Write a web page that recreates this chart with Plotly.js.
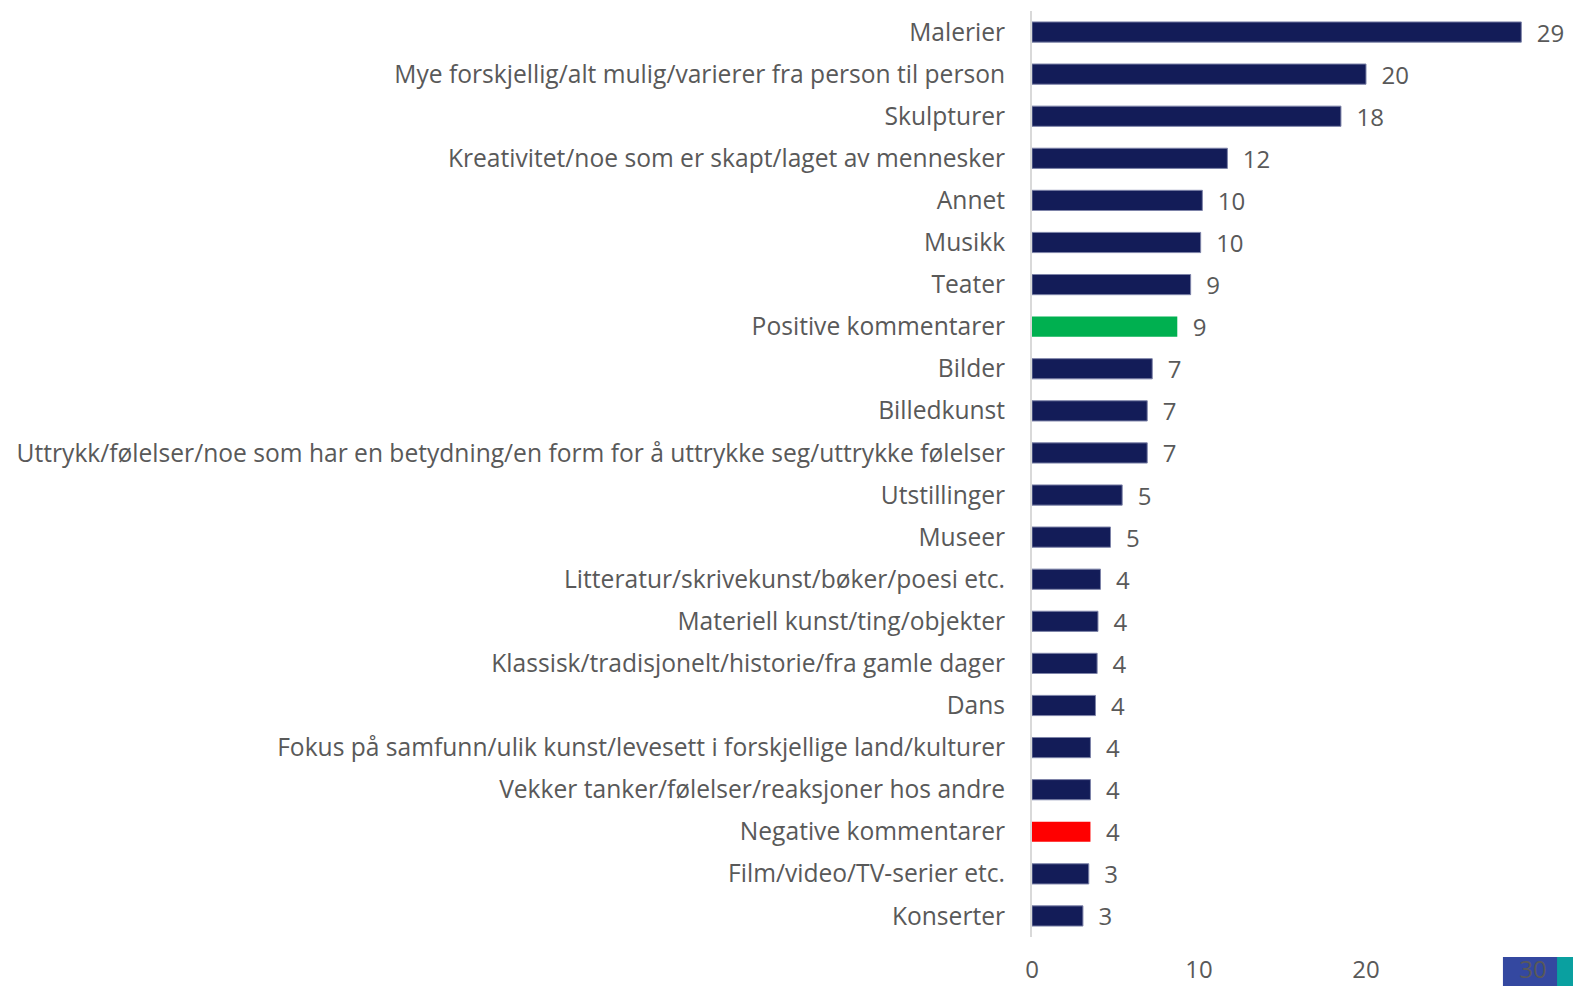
<!DOCTYPE html>
<html>
<head>
<meta charset="utf-8">
<script src="https://cdn.plot.ly/plotly-3.0.1.min.js"></script>
<style>html,body{margin:0;padding:0;background:#fff;}#chart{width:1573px;height:986px;}</style>
</head>
<body>
<div id="chart"></div>
<script>
const categories = [
  "Malerier",
  "Mye forskjellig/alt mulig/varierer fra person til person",
  "Skulpturer",
  "Kreativitet/noe som er skapt/laget av mennesker",
  "Annet",
  "Musikk",
  "Teater",
  "Positive kommentarer",
  "Bilder",
  "Billedkunst",
  "Uttrykk/følelser/noe som har en betydning/en form for å uttrykke seg/uttrykke følelser",
  "Utstillinger",
  "Museer",
  "Litteratur/skrivekunst/bøker/poesi etc.",
  "Materiell kunst/ting/objekter",
  "Klassisk/tradisjonelt/historie/fra gamle dager",
  "Dans",
  "Fokus på samfunn/ulik kunst/levesett i forskjellige land/kulturer",
  "Vekker tanker/følelser/reaksjoner hos andre",
  "Negative kommentarer",
  "Film/video/TV-serier etc.",
  "Konserter"
];
const values = [29.3, 20.0, 18.5, 11.7, 10.2, 10.1, 9.5, 8.7, 7.2, 6.9, 6.9, 5.4, 4.7, 4.1, 3.95, 3.9, 3.8, 3.5, 3.5, 3.5, 3.4, 3.05];
const valueLabels = ["29", "20", "18", "12", "10", "10", "9", "9", "7", "7", "7", "5", "5", "4", "4", "4", "4", "4", "4", "4", "3", "3"];
const xTicks = [0, 10, 20, 30];

const navy = "#131c58";
const barColors = categories.map(c => c === "Positive kommentarer" ? "#00b050" : (c === "Negative kommentarer" ? "#ff0000" : navy));
const lineColors = categories.map(c => (c === "Positive kommentarer" || c === "Negative kommentarer") ? "rgba(0,0,0,0)" : "#7d83a8");

const fontFam = "'Open Sans', sans-serif";

const trace = {
  type: "bar",
  orientation: "h",
  y: categories,
  x: values,
  text: valueLabels.map(t => "  " + t),
  textposition: "outside",
  constraintext: "none",
  cliponaxis: false,
  textfont: {family: fontFam, size: 24, color: "#595959"},
  marker: {color: barColors, line: {color: lineColors, width: 1}},
  hoverinfo: "none"
};

const layout = {
  width: 1573,
  height: 986,
  margin: {l: 1032, r: 40, t: 11, b: 49},
  paper_bgcolor: "#ffffff",
  plot_bgcolor: "#ffffff",
  showlegend: false,
  bargap: 0.52,
  font: {family: fontFam, color: "#595959"},
  xaxis: {
    range: [0, 30],
    tickvals: xTicks,
    ticktext: xTicks.map(String),
    showgrid: false,
    zeroline: false,
    showline: false,
    ticks: "outside",
    ticklen: 11,
    tickcolor: "rgba(0,0,0,0)",
    tickfont: {family: fontFam, size: 24, color: "#595959"},
    fixedrange: true
  },
  yaxis: {
    type: "category",
    autorange: "reversed",
    showgrid: false,
    zeroline: false,
    showline: true,
    linecolor: "#d9d9d9",
    linewidth: 2,
    ticks: "outside",
    ticklen: 20,
    tickcolor: "rgba(0,0,0,0)",
    tickfont: {family: fontFam, size: 24.6, color: "#595959"},
    fixedrange: true
  },
  shapes: [
    {type: "rect", xref: "paper", yref: "paper", x0: 0.94, x1: 1.08, y0: -0.0216, y1: -0.06, fillcolor: "#3448a0", line: {width: 0}, layer: "below"},
    {type: "rect", xref: "paper", yref: "paper", x0: 1.048, x1: 1.08, y0: -0.0216, y1: -0.06, fillcolor: "#0aa0a0", line: {width: 0}, layer: "below"}
  ]
};

Plotly.newPlot("chart", [trace], layout, {displayModeBar: false, staticPlot: true});
</script>
</body>
</html>
